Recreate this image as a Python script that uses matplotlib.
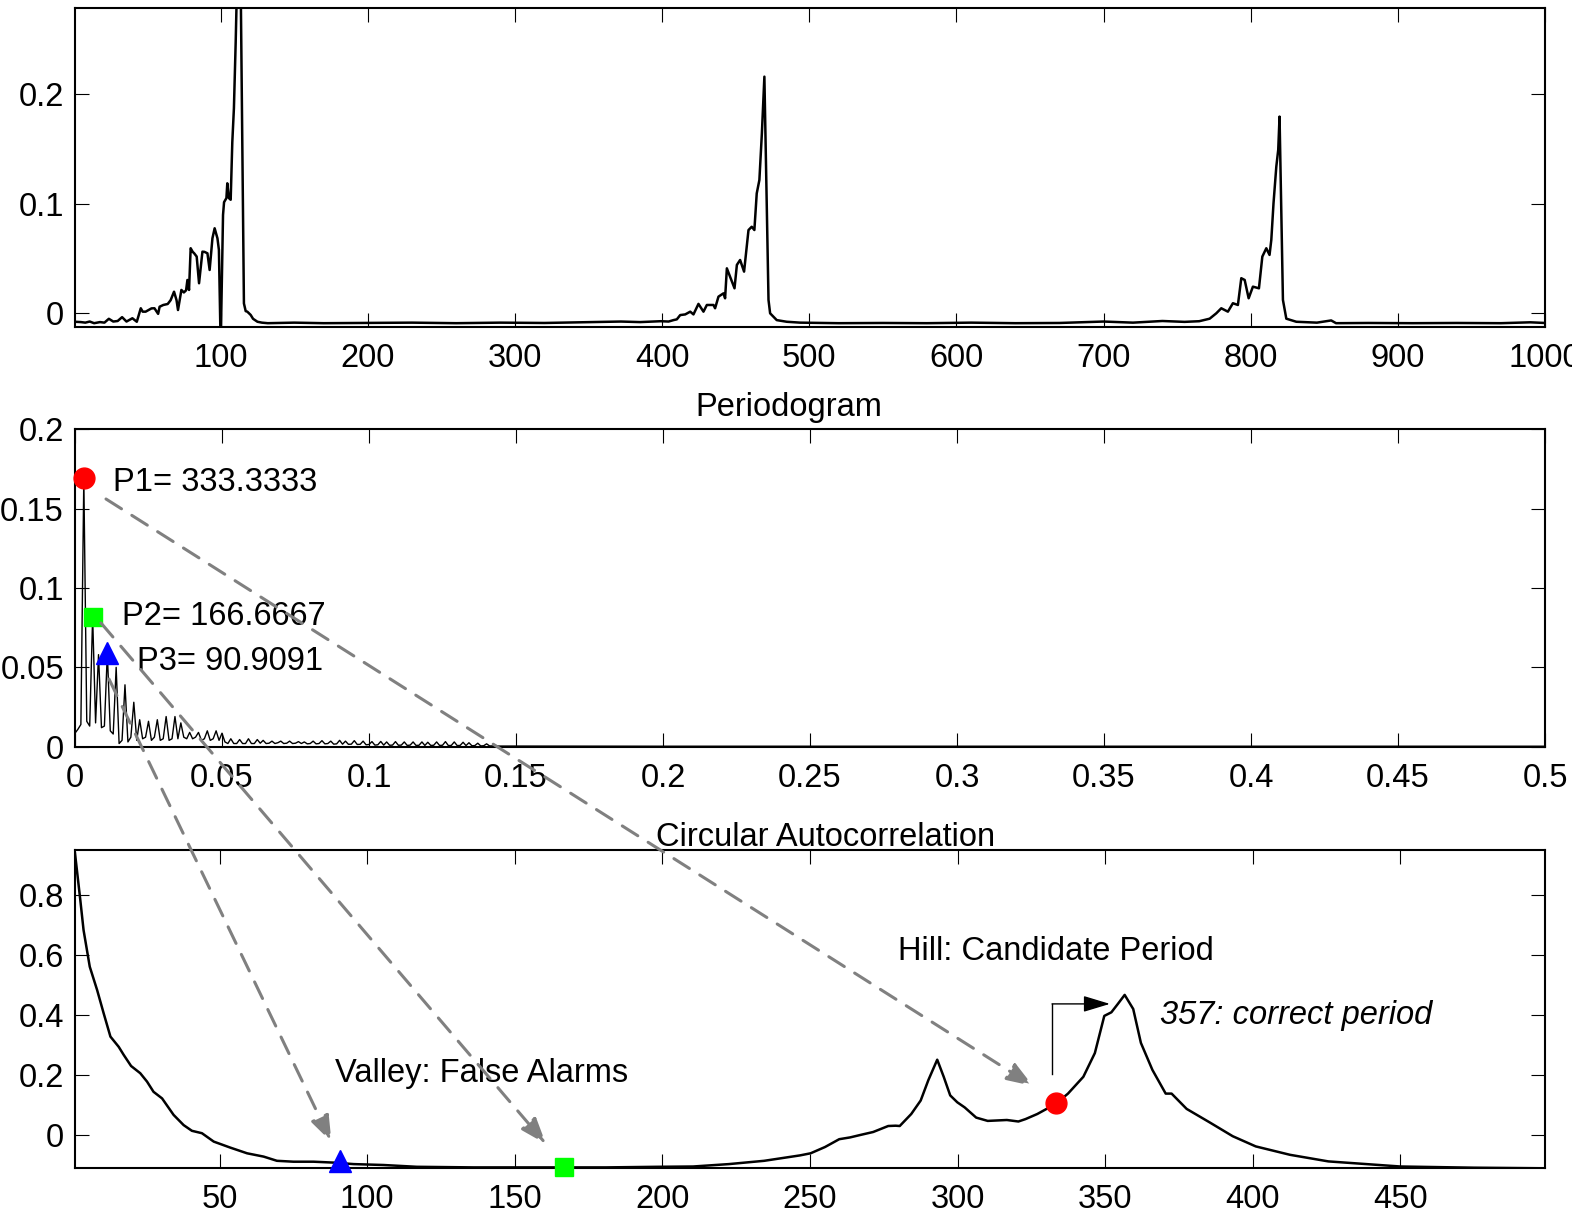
import numpy as np
import matplotlib.pyplot as plt
from matplotlib.patches import FancyArrowPatch, ArrowStyle
from matplotlib.ticker import FuncFormatter

plt.rcParams['font.family'] = ['Liberation Sans', 'DejaVu Sans']
plt.rcParams['font.size'] = 23.5

# ---- data ----
# top: raw time series (index, value)
ts_x = [1, 5, 8, 11, 14, 18, 21, 24, 27, 30, 33, 36, 38, 40, 43, 45.7, 47, 49, 51, 53, 55, 57.5,
        58.5, 61, 64, 66, 68.3, 70, 71, 73.3, 75, 76.5, 77.4, 78.5, 79.6, 81, 82, 83.7, 85.3, 87.6,
        89, 91, 92.5, 94.4, 95.9, 97.8, 98.8, 100, 101.6, 102.3, 103.9, 104.5, 105.6, 106.8, 107.9,
        109, 110.2, 111, 112, 113.6, 115.8, 117, 118.1, 120.4, 122, 125, 128, 132, 150, 170, 200,
        230, 260, 290, 320, 350, 372, 385, 399, 404.4, 407.7, 410, 412.3, 415.7, 419.1, 421.3,
        424.7, 428.1, 430.4, 434.9, 436, 438.3, 441.7, 442.8, 444, 446.2, 449.2, 450.8, 453,
        455.7, 458.7, 460.9, 462.7, 464.3, 466.1, 467.8, 469.5, 472.3, 473.4, 477.9, 484.7,
        493.8, 520, 550, 580, 610, 640, 670, 700, 720, 740, 755, 765, 772.1, 776.6, 780, 784.5,
        787.9, 791.3, 793.6, 795.9, 798.6, 801.5, 805.6, 807.9, 810.6, 812.8, 814, 815.5, 817.4,
        818.7, 819.6, 821.9, 824.2, 831, 845, 854.7, 858, 880, 910, 940, 970, 990, 1000]
ts_y = [-0.0077, -0.008, -0.0085, -0.0075, -0.009, -0.008, -0.0085, -0.005, -0.0075, -0.007,
        -0.0035, -0.0075, -0.006, -0.0045, -0.0077, 0.0046, 0.0015, 0.0015, 0.003, 0.0045, 0.0046,
        -0.0005, 0.006, 0.0076, 0.0085, 0.012, 0.0197, 0.012, 0.003, 0.0213, 0.019, 0.021, 0.0304,
        0.0213, 0.0593, 0.056, 0.0547, 0.0517, 0.0274, 0.0562, 0.056, 0.0547, 0.0395, 0.0684,
        0.0775, 0.0684, 0.0578, -0.03, 0.0897, 0.1013, 0.105, 0.1185, 0.105, 0.1035, 0.156,
        0.187, 0.247, 0.295, 0.31, 0.30, 0.009, 0.002, 0.0015, -0.0015, -0.005, -0.0077, -0.0085,
        -0.009, -0.0085, -0.009, -0.0088, -0.0085, -0.009, -0.0085, -0.0088, -0.008, -0.0075,
        -0.008, -0.0072, -0.0075, -0.0062, -0.0055, -0.0016, -0.001, 0.0015, -0.001, 0.0086,
        0.0015, 0.0076, 0.0076, 0.0046, 0.0152, 0.0182, 0.0137, 0.041, 0.0334, 0.0228, 0.0441,
        0.0486, 0.038, 0.0759, 0.0789, 0.0759, 0.1093, 0.1215, 0.1641, 0.2157, 0.0122, 0.0,
        -0.0062, -0.0077, -0.0085, -0.009, -0.0088, -0.009, -0.0085, -0.009, -0.0088, -0.0075,
        -0.0085, -0.007, -0.0078, -0.0072, -0.0049, 0.0, 0.0046, 0.0015, 0.0092, 0.0076, 0.032,
        0.0304, 0.0137, 0.0243, 0.0228, 0.0517, 0.0593, 0.0532, 0.0669, 0.1003, 0.1337, 0.149,
        0.1793, 0.0122, -0.0049, -0.0077, -0.0085, -0.0065, -0.009, -0.0088, -0.009, -0.0088,
        -0.009, -0.0082, -0.0088]

# middle: periodogram, one value per frequency bin of 1/1000
pgram_power = [0.0085, 0.011, 0.014, 0.169, 0.016, 0.013, 0.082, 0.015, 0.058, 0.012,
               0.013, 0.059, 0.010, 0.008, 0.050, 0.002, 0.004, 0.039, 0.003, 0.006,
               0.028, 0.004, 0.017, 0.005, 0.006, 0.016, 0.004, 0.006, 0.017, 0.004,
               0.005, 0.019, 0.004, 0.005, 0.019, 0.005, 0.015, 0.006, 0.005, 0.009,
               0.005, 0.006, 0.009, 0.004, 0.005, 0.010, 0.004, 0.005, 0.010, 0.004,
               0.0085, 0.003, 0.002, 0.005, 0.002, 0.002, 0.0045, 0.002, 0.002, 0.005,
               0.002, 0.002, 0.0045, 0.0022, 0.004, 0.002, 0.0022, 0.0035, 0.002, 0.0025,
               0.0035, 0.002, 0.0022, 0.0035, 0.002, 0.0022, 0.0032, 0.002, 0.003, 0.0018,
               0.002, 0.0035, 0.0018, 0.002, 0.0038, 0.0018, 0.002, 0.0035, 0.0016, 0.0018,
               0.004, 0.0016, 0.0035, 0.0015, 0.0016, 0.0038, 0.0014, 0.0015, 0.0035, 0.0012,
               0.0014, 0.0032, 0.001, 0.0012, 0.0033, 0.001, 0.003, 0.0009, 0.001, 0.0032,
               0.0009, 0.001, 0.003, 0.0008, 0.001, 0.003, 0.0008, 0.0009, 0.003, 0.0008,
               0.0028, 0.0008, 0.0009, 0.003, 0.0008, 0.0009, 0.0032, 0.0007, 0.0008, 0.003,
               0.0007, 0.0008, 0.0028, 0.0007, 0.0025, 0.0006, 0.0007, 0.0022, 0.0005, 0.0006,
               0.0018, 0.0005, 0.0005, 0.0008, 0.0004]
tail_freq = [0.15, 0.2, 0.3, 0.4, 0.5]
tail_power = [0.0004, 0.0003, 0.0003, 0.0003, 0.0003]

# bottom: circular autocorrelation (lag, value)
acf_lag = [1, 2.8, 3.9, 6, 8.5, 10.7, 13, 15.8, 17.5, 20, 23.1, 25.4, 27.6, 30.5, 34.4, 37.8,
           40.6, 44, 48, 53.6, 59.3, 64.9, 69.4, 75, 81.8, 88.6, 95.4, 105.5, 116.8, 136, 181,
           198.2, 210.4, 222.5, 234.5, 246.6, 250.2, 255.1, 259.9, 263.6, 267, 271.4, 276.5,
           279, 280.4, 284.3, 287.5, 290.1, 293.1, 295.3, 297.5, 299.9, 302.4, 306.3, 310.2,
           316.7, 320.6, 323, 327, 333.3, 337.4, 342.6, 346.5, 349.7, 352.1, 354.3, 356.6,
           359.5, 362.1, 366, 370.5, 372.5, 377.6, 385.4, 393.2, 401, 412.6, 425.6, 450, 475, 499]
acf_val = [0.939, 0.783, 0.683, 0.561, 0.483, 0.406, 0.328, 0.294, 0.267, 0.23, 0.206, 0.178,
           0.144, 0.122, 0.067, 0.033, 0.014, 0.006, -0.022, -0.042, -0.061, -0.072, -0.086,
           -0.089, -0.089, -0.092, -0.097, -0.1, -0.106, -0.108, -0.108, -0.106, -0.105, -0.097,
           -0.086, -0.068, -0.061, -0.040, -0.014, -0.008, 0.0, 0.010, 0.030, 0.031, 0.030,
           0.070, 0.115, 0.183, 0.251, 0.194, 0.132, 0.109, 0.092, 0.058, 0.047, 0.050, 0.045,
           0.053, 0.070, 0.104, 0.138, 0.194, 0.273, 0.397, 0.409, 0.437, 0.467, 0.42, 0.307,
           0.217, 0.138, 0.138, 0.087, 0.042, -0.004, -0.038, -0.066, -0.088, -0.105, -0.109,
           -0.111]

# candidate periods
p_names = ['P1', 'P2', 'P3']
p_period = [333.3333, 166.6667, 90.9091]
p_power = [0.169, 0.082, 0.059]
p_acf = [0.107, -0.107, -0.087]
p_marker = ['o', 's', '^']
p_color = ['#ff0000', '#00ff00', '#0000ff']
p_size = [15, 12.5, 16]

W, H = 1572, 1217
fig = plt.figure(figsize=(W / 100, H / 100), dpi=100)


def px_axes(top, bottom):
    return [75 / W, 1 - bottom / H, 1470 / W, (bottom - top) / H]


ax1 = fig.add_axes(px_axes(8.3, 326.7))
ax2 = fig.add_axes(px_axes(429.3, 746.7))
ax3 = fig.add_axes(px_axes(850, 1168.3))

fmt = FuncFormatter(lambda v, p: f'{v:g}')
for ax in (ax1, ax2, ax3):
    ax.tick_params(direction='in', length=10, width=0.8, top=True, right=True,
                   labelsize=23.5, pad=8)
    ax.tick_params(axis='x', pad=11.5)
    for s in ax.spines.values():
        s.set_linewidth(1.5)
    ax.xaxis.set_major_formatter(fmt)
    ax.yaxis.set_major_formatter(fmt)

# top
ax1.plot(ts_x, ts_y, color='k', lw=1.8)
ax1.set_xlim(1, 1000)
ax1.set_ylim(-0.0122, 0.278)
ax1.set_xticks(np.arange(100, 1001, 100))
ax1.set_yticks([0, 0.1, 0.2])

# middle
freq = np.arange(len(pgram_power)) / 1000
ax2.plot(np.concatenate([freq, tail_freq]), pgram_power + tail_power, color='k', lw=1.0)
ax2.set_xlim(0, 0.5)
ax2.set_ylim(0, 0.2)
ax2.set_xticks(np.arange(0, 0.501, 0.05))
ax2.set_yticks([0, 0.05, 0.1, 0.15, 0.2])
ax2.text(0.4854, 1.0687, 'Periodogram', transform=ax2.transAxes, ha='center', va='center')

text_pos = [(0.01305, 0.1666), (0.01612, 0.0818), (0.02124, 0.054)]
for i in range(3):
    ax2.plot(1 / p_period[i], p_power[i], marker=p_marker[i], color=p_color[i],
             ms=p_size[i], ls='none', clip_on=False, zorder=5)
    ax2.text(text_pos[i][0], text_pos[i][1], f'{p_names[i]}= {p_period[i]:.4f}',
             ha='left', va='center')

# bottom
ax3.plot(acf_lag, acf_val, color='k', lw=1.8)
ax3.set_xlim(1, 499)
ax3.set_ylim(-0.111, 0.95)
ax3.set_xticks(np.arange(50, 451, 50))
ax3.set_yticks([0, 0.2, 0.4, 0.6, 0.8])
ax3.text(0.5109, 1.039, 'Circular Autocorrelation', transform=ax3.transAxes,
         ha='center', va='center')
for i in range(3):
    ax3.plot(p_period[i], p_acf[i], marker=p_marker[i], color=p_color[i],
             ms=p_size[i], ls='none', clip_on=False, zorder=5)

ax3.text(279.8, 0.613, 'Hill: Candidate Period', ha='left', va='center')
ax3.text(89, 0.204, 'Valley: False Alarms', ha='left', va='center')
ax3.text(368.5, 0.397, '357: correct period', ha='left', va='center', style='italic')

# L-shaped pointer to the true period
ax3.plot([332, 332], [0.203, 0.437], color='k', lw=1)
ax3.annotate('', xy=(351.6, 0.437), xytext=(332, 0.437),
             arrowprops=dict(arrowstyle=ArrowStyle('-|>', head_length=16.5, head_width=5),
                             mutation_scale=1, color='k', lw=1, shrinkA=0, shrinkB=0))

# dashed arrows from periodogram peaks down to the autocorrelation
arrows = [((106, 499), (1033, 1086)),
          ((101, 623), (546, 1144)),
          ((109, 679), (331.5, 1142))]
for (x0, y0), (x1, y1) in arrows:
    a = FancyArrowPatch((x0 / W, 1 - y0 / H), (x1 / W, 1 - y1 / H),
                        transform=fig.transFigure,
                        arrowstyle=ArrowStyle('-|>', head_length=16, head_width=5.8),
                        mutation_scale=1, color='#808080', lw=2.2,
                        linestyle=(0, (6, 4)), shrinkA=0, shrinkB=0, zorder=6)
    fig.add_artist(a)

fig.savefig('out.png', dpi=100)
